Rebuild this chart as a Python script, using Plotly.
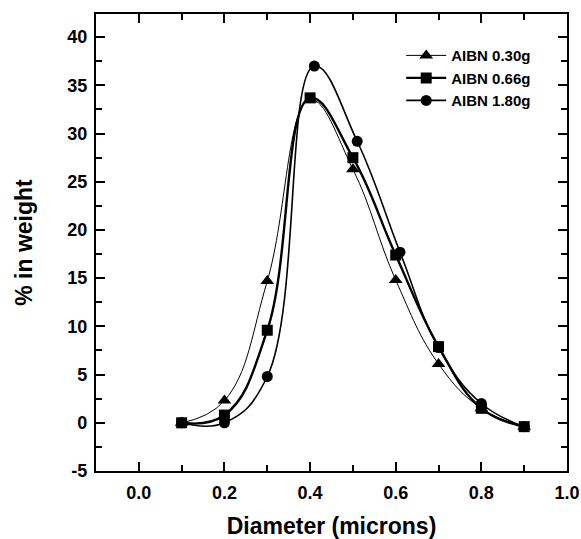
import plotly.graph_objects as go

# Particle size distributions for three initiator (AIBN) loadings
diameter = [0.1, 0.2, 0.3, 0.4, 0.5, 0.6, 0.7, 0.8, 0.9]
diameter_180 = [0.1, 0.2, 0.3, 0.41, 0.51, 0.61, 0.7, 0.8, 0.9]

weight_030 = [0.0, 2.3, 14.7, 33.5, 26.3, 14.8, 6.1, 1.5, -0.4]
weight_066 = [0.0, 0.8, 9.6, 33.7, 27.5, 17.4, 7.9, 1.5, -0.4]
weight_180 = [0.0, 0.0, 4.8, 37.0, 29.2, 17.7, 7.8, 2.0, -0.4]

# y tick labels use a plain hyphen for the negative value
y_tick_values = [-5, 0, 5, 10, 15, 20, 25, 30, 35, 40]
y_tick_labels = ["-5", "0", "5", "10", "15", "20", "25", "30", "35", "40"]

series = [
    ("AIBN 0.30g", diameter, weight_030, "triangle-up", 12, 1.0),
    ("AIBN 0.66g", diameter, weight_066, "square", 11, 2.4),
    ("AIBN 1.80g", diameter_180, weight_180, "circle", 11, 1.6),
]

FAMILY = "Liberation Sans, Arial, sans-serif"

fig = go.Figure()
for name, xs, ys, symbol, msize, width in series:
    fig.add_trace(go.Scatter(
        x=xs, y=ys, name=name, mode="lines+markers",
        line=dict(color="black", width=width, shape="spline", smoothing=1.2),
        marker=dict(symbol=symbol, size=msize, color="black"),
    ))

tick_font = dict(family=FAMILY, size=18, color="black", weight="bold")
title_font = dict(family=FAMILY, size=23, color="black", weight="bold")

common = dict(
    ticks="inside", ticklen=9, tickwidth=1.8, tickcolor="black", mirror="allticks",
    showline=True, linecolor="black", linewidth=2.2, showgrid=False, zeroline=False,
    tickfont=tick_font, automargin=False,
)

fig.update_xaxes(
    range=[-0.1, 1.0], tick0=0, dtick=0.2, tickformat=".1f",
    ticklabelstandoff=4,
    minor=dict(ticks="inside", ticklen=6, dtick=0.1, tickcolor="black", tickwidth=1.8),
    title=dict(text="Diameter (microns)", font=title_font, standoff=16),
    **common,
)
fig.update_yaxes(
    range=[-5, 42.4], tickmode="array",
    tickvals=y_tick_values, ticktext=y_tick_labels,
    ticklabelstandoff=3,
    minor=dict(ticks="inside", ticklen=6, dtick=2.5, tickcolor="black", tickwidth=1.8),
    title=dict(text="% in weight", font=title_font, standoff=28),
    **common,
)

fig.update_layout(
    width=581, height=539,
    margin=dict(l=96, r=14, t=14, b=68),
    paper_bgcolor="white", plot_bgcolor="white",
    font=dict(family=FAMILY, color="black"),
    legend=dict(
        x=0.648, y=0.945, xanchor="left", yanchor="top",
        bgcolor="rgba(0,0,0,0)", borderwidth=0,
        font=dict(family=FAMILY, size=15, color="black", weight="bold"),
        itemwidth=40, tracegroupgap=0,
    ),
)

fig.write_html("out.html")
